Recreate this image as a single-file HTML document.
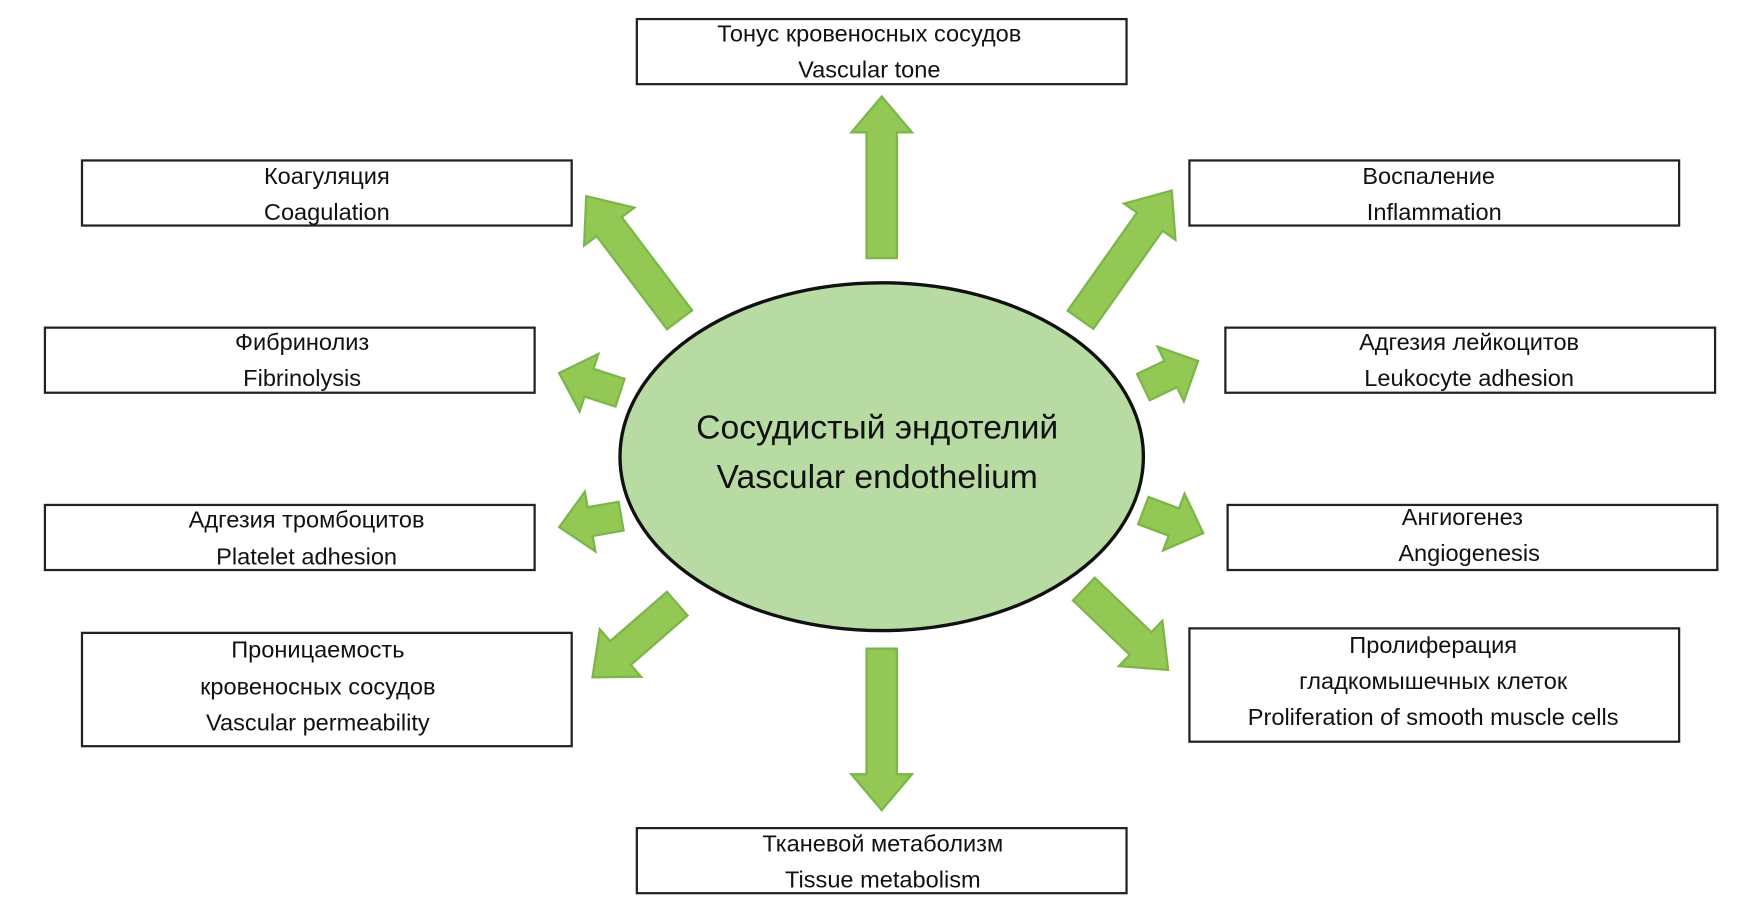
<!DOCTYPE html>
<html><head><meta charset="utf-8"><style>html,body{margin:0;padding:0;background:#fff}svg{display:block}text{font-family:"Liberation Sans","DejaVu Sans",sans-serif;fill:#111}</style></head>
<body>
<svg width="1760" height="919" viewBox="0 0 1567 819" preserveAspectRatio="none" xmlns="http://www.w3.org/2000/svg">
<defs>
<style>.b{fill:#fff;stroke:#222;stroke-width:2}.a{fill:#92c853;stroke:#7ab648;stroke-width:2}.t{font-size:21px;text-anchor:middle}</style>
</defs>
<rect class="b" x="567" y="17" width="436" height="58"/>
<text class="t" x="774" y="37">Тонус кровеносных сосудов</text><text class="t" x="774" y="69">Vascular tone</text>
<rect class="b" x="73" y="143" width="436" height="58"/>
<text class="t" x="291" y="164">Коагуляция</text><text class="t" x="291" y="196">Coagulation</text>
<rect class="b" x="1059" y="143" width="436" height="58"/>
<text class="t" x="1272" y="164">Воспаление</text><text class="t" x="1277" y="196">Inflammation</text>
<rect class="b" x="40" y="292" width="436" height="58"/>
<text class="t" x="269" y="312">Фибринолиз</text><text class="t" x="269" y="344">Fibrinolysis</text>
<rect class="b" x="1091" y="292" width="436" height="58"/>
<text class="t" x="1308" y="312">Адгезия лейкоцитов</text><text class="t" x="1308" y="344">Leukocyte adhesion</text>
<rect class="b" x="40" y="450" width="436" height="58"/>
<text class="t" x="273" y="470">Адгезия тромбоцитов</text><text class="t" x="273" y="503">Platelet adhesion</text>
<rect class="b" x="1093" y="450" width="436" height="58"/>
<text class="t" x="1302" y="468">Ангиогенез</text><text class="t" x="1308" y="500">Angiogenesis</text>
<rect class="b" x="73" y="564" width="436" height="101"/>
<text class="t" x="283" y="586">Проницаемость</text><text class="t" x="283" y="619">кровеносных сосудов</text><text class="t" x="283" y="651">Vascular permeability</text>
<rect class="b" x="1059" y="560" width="436" height="101"/>
<text class="t" x="1276" y="582">Пролиферация</text><text class="t" x="1276" y="614">гладкомышечных клеток</text><text class="t" x="1276" y="646">Proliferation of smooth muscle cells</text>
<rect class="b" x="567" y="738" width="436" height="58"/>
<text class="t" x="786" y="759">Тканевой метаболизм</text><text class="t" x="786" y="791">Tissue metabolism</text>
<g transform="translate(785,230) rotate(-90)"><polygon class="a" points="0,-13.5 112,-13.5 112,-27 144,0 112,27 112,13.5 0,13.5"/></g>
<g transform="translate(785,578) rotate(90)"><polygon class="a" points="0,-13.5 112,-13.5 112,-27 144,0 112,27 112,13.5 0,13.5"/></g>
<g transform="translate(605,285) rotate(-127)"><polygon class="a" points="0,-14 104,-14 104,-28 138,0 104,28 104,14 0,14"/></g>
<g transform="translate(962,285) rotate(-54.8)"><polygon class="a" points="0,-14 107,-14 107,-28 141,0 107,28 107,14 0,14"/></g>
<g transform="translate(552,350) rotate(198)"><polygon class="a" points="0,-13 29,-13 29,-27 57,0 29,27 29,13 0,13"/></g>
<g transform="translate(1018,345) rotate(-25.6)"><polygon class="a" points="0,-13 27,-13 27,-27 54,0 27,27 27,13 0,13"/></g>
<g transform="translate(553,460) rotate(170)"><polygon class="a" points="0,-13 28,-13 28,-27 56,0 28,27 28,13 0,13"/></g>
<g transform="translate(1018,455) rotate(20.7)"><polygon class="a" points="0,-13 29,-13 29,-27 57,0 29,27 29,13 0,13"/></g>
<g transform="translate(603,538) rotate(139)"><polygon class="a" points="0,-14 67,-14 67,-28 100,0 67,28 67,14 0,14"/></g>
<g transform="translate(965,525) rotate(43.8)"><polygon class="a" points="0,-14 70,-14 70,-28 104,0 70,28 70,14 0,14"/></g>
<ellipse cx="785" cy="407" rx="233" ry="155" fill="#b8dba3" stroke="#111" stroke-width="3"/>
<text x="781" y="391" font-size="30" text-anchor="middle">Сосудистый эндотелий</text>
<text x="781" y="435" font-size="30" text-anchor="middle">Vascular endothelium</text>
</svg>
</body></html>
